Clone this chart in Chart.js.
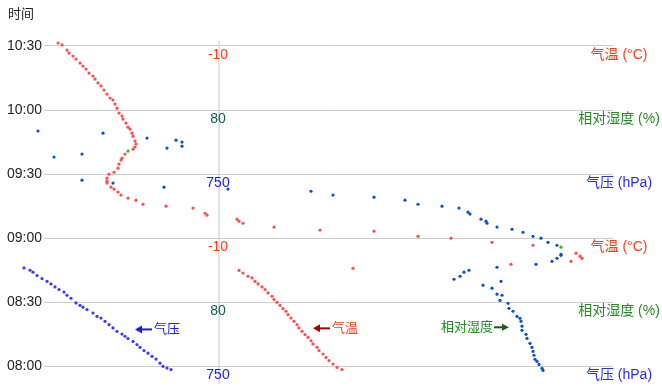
<!DOCTYPE html>
<html>
<head>
<meta charset="utf-8">
<script src="https://cdn.jsdelivr.net/npm/chart.js@4/dist/chart.umd.min.js"></script>
<style>
  body { margin: 0; background: #fff; }
  #wrap { width: 662px; height: 386px; }
</style>
</head>
<body>
<div id="wrap"><canvas id="myChart" width="662" height="386"></canvas></div>
<script>
// time axis: minutes after 08:00
var tickMinutes = [0, 30, 60, 90, 120, 150];
var tickLabels = ['08:00', '08:30', '09:00', '09:30', '10:00', '10:30'];

// inner scale labels (repeat every 90 min)
var innerLabels = ['750', '80', '-10', '750', '80', '-10'];
var innerColors = ['#1a1aee', '#0d5c55', '#ff3a10', '#1a1aee', '#0d5c55', '#ff3a10'];
var sideLabels = ['气压 (hPa)', '相对湿度 (%)', '气温 (°C)', '气压 (hPa)', '相对湿度 (%)', '气温 (°C)'];
var sideColors = ['#2a2aee', '#228822', '#ff3a1a', '#2a2aee', '#228822', '#ff3a1a'];

// [x, minutes]
var tempUpper = [[1.4,151.4],[1.8,150.5],[2.3,148.1],[2.5,146.7],[2.9,145.3],[3.2,143.9],[3.6,142.0],[3.9,140.6],
  [4.2,139.2],[4.5,137.3],[4.9,135.9],[5.1,134.5],[5.4,132.7],[5.7,131.3],[6.0,129.4],[6.3,127.5],[6.6,125.6],
  [6.9,124.7],[7.1,122.8],[7.3,120.9],[7.5,118.6],[7.8,117.2],[7.9,115.8],[8.2,113.9],[8.4,112.0],[8.6,111.1],
  [8.8,109.2],[8.9,107.8],[9.1,105.5],[9.2,104.1],[9.1,102.7],[8.9,101.7],[8.1,99.4],[7.8,97.5],[7.7,96.6],
  [7.5,94.7],[7.4,92.8],[7.0,90.9],[6.5,90.0],[6.3,88.1],[6.3,86.7],[6.3,85.8],[6.7,83.9],[7.0,83.0],[7.4,81.6],
  [7.7,80.2],[8.4,78.8],[9.2,77.8],[9.9,75.9],[12.2,75.0],[14.9,74.1],[16.1,71.7],[16.3,70.8],[19.3,68.9],
  [19.5,68.0],[19.9,67.0],[23.0,65.2],[27.6,63.8],[33.0,63.3],[37.4,60.9],[40.7,60.0],[44.8,58.1],[48.9,56.7],
  [53.2,53.0],[53.6,51.6],[53.8,50.6],[52.7,49.2],[46.7,47.8],[30.9,45.9]];
var tempLower = [[19.5,44.9],[19.9,43.7],[20.4,42.2],[20.8,41.4],[21.1,39.8],[21.4,38.6],[21.8,37.2],[22.1,36.0],
  [22.4,34.4],[22.8,32.8],[23.0,31.3],[23.3,30.0],[23.6,28.6],[23.9,27.0],[24.2,25.8],[24.4,24.2],[24.7,22.6],
  [25.0,21.1],[25.3,19.5],[25.5,18.0],[25.8,16.4],[26.1,14.9],[26.4,13.6],[26.7,12.0],[26.9,10.5],[27.3,8.9],
  [27.5,7.4],[27.9,5.8],[28.2,4.2],[28.5,2.7],[28.9,1.1],[29.3,-0.5],[29.8,-1.5]];
// listed in time order
var pressurePts = [[12.7,-1.5],[12.3,-0.8],[11.9,0.0],[11.6,1.5],[11.2,3.4],[10.8,4.7],[10.4,6.2],[10.0,7.4],
  [9.6,8.9],[9.3,10.2],[8.9,11.7],[8.4,13.0],[8.1,14.1],[7.8,15.1],[7.3,16.4],[6.9,18.0],[6.5,19.5],[6.1,21.1],
  [5.7,22.6],[5.3,23.4],[4.9,25.0],[4.3,26.6],[3.9,27.7],[3.6,28.6],[3.2,29.7],[2.7,31.9],[2.3,33.3],[2.0,34.8],
  [1.5,36.0],[1.1,37.2],[0.7,38.6],[0.3,39.8],[-0.2,41.1],[-0.7,42.5],[-1.1,44.1],[-1.4,45.0],[-2.0,46.1]];
var humidityPts = [[-0.6,110.2],[1.0,98.0],[3.8,99.4],[5.9,109.2],[10.3,106.9],[12.3,102.2],[13.2,105.9],
  [13.8,105.0],[13.8,103.1],[3.8,87.2],[6.9,85.8],[12.0,83.9],[18.4,83.0],[26.7,82.0],[28.9,80.2],[33.0,79.2],
  [36.1,77.8],[37.4,75.9],[39.8,75.0],[41.5,74.1],[42.4,72.2],[42.6,71.3],[43.7,68.9],[44.2,68.0],[44.3,67.0],
  [45.3,65.2],[46.8,64.2],[47.9,62.8],[48.9,60.9],[49.7,60.0],[50.4,58.1],[51.3,56.7],[51.7,52.5],[51.7,52.0],
  [51.3,50.6],[50.8,49.2],[49.2,47.8],[45.3,46.4],[42.5,45.0],[42.0,44.1],[41.6,42.2],[41.0,40.8],[45.7,39.8],
  [43.9,38.0],[44.8,36.6],[45.3,33.8],[45.8,33.3],[45.6,30.9],[46.4,29.5],[46.5,27.2],[46.9,25.8],[47.3,23.4],
  [47.6,22.5],[47.7,21.1],[47.8,18.8],[47.8,16.9],[48.2,15.0],[48.3,13.1],[48.6,10.8],[48.8,8.9],[48.9,7.0],
  [49.0,5.2],[49.1,3.3],[49.3,2.3],[49.5,0.9],[49.8,-0.9],[49.9,-1.9]];
var greenPts = [[51.7,55.8],[8.4,100.8]];

// arrow notes: [x, minutes, text, textColor, arrowColor, direction]
var notes = [
  [9.1, 17.3, '气压', '#1a1aee', '#1a1aee', 'left'],
  [26.9, 17.8, '气温', '#ff3a1a', '#aa0000', 'left'],
  [39.7, 18.3, '相对湿度', '#228822', '#1a5a1a', 'right']
];

function toXY(arr) {
  return arr.map(function (p) { return { x: p[0], y: p[1] }; });
}

var FONT = '"Liberation Sans", Arial, "Noto Sans CJK SC", sans-serif';

// let points left of the plot (under the time labels) be drawn too
var savedArea = null;
var wideArea = {
  id: 'wideArea',
  beforeDatasetsDraw: function (chart) {
    savedArea = chart.chartArea;
    chart.chartArea = Object.assign({}, savedArea, { left: 0 });
  },
  afterDatasetsDraw: function (chart) {
    if (savedArea) chart.chartArea = savedArea;
  }
};

var textPlugin = {
  id: 'texts',
  afterDatasetsDraw: function (chart) {
    var c = chart.ctx, xs = chart.scales.x, ys = chart.scales.y;
    c.save();
    c.textBaseline = 'middle';
    // title
    c.fillStyle = '#222';
    c.font = '13px ' + FONT;
    c.textAlign = 'left';
    c.fillText('时间', 8, 14);
    // inner and side labels
    for (var i = 0; i < tickMinutes.length; i++) {
      var py = ys.getPixelForValue(tickMinutes[i]) + 9;
      c.font = '14px ' + FONT;
      c.textAlign = 'center';
      c.fillStyle = innerColors[i];
      c.fillText(innerLabels[i], xs.getPixelForValue(17.5) - 1, py);
      c.fillStyle = sideColors[i];
      c.fillText(sideLabels[i], 619, py);
    }
    // arrows with notes
    c.font = '13px ' + FONT;
    notes.forEach(function (n) {
      var px = xs.getPixelForValue(n[0]), py = ys.getPixelForValue(n[1]);
      c.strokeStyle = n[4];
      c.fillStyle = n[4];
      c.lineWidth = 2;
      var ax0, ax1, tip;
      if (n[5] === 'left') {
        ax0 = px; ax1 = px + 17; tip = ax0;
        c.beginPath(); c.moveTo(ax0 + 5, py); c.lineTo(ax1, py); c.stroke();
        c.beginPath(); c.moveTo(tip, py); c.lineTo(tip + 7, py - 4); c.lineTo(tip + 7, py + 4); c.closePath(); c.fill();
        c.fillStyle = n[3];
        c.textAlign = 'left';
        c.fillText(n[2], ax1 + 2, py);
      } else {
        c.fillStyle = n[3];
        c.textAlign = 'left';
        c.fillText(n[2], px, py);
        var w = c.measureText(n[2]).width;
        ax0 = px + w + 1; ax1 = ax0 + 15; tip = ax1;
        c.fillStyle = n[4];
        c.beginPath(); c.moveTo(ax0, py); c.lineTo(ax1 - 5, py); c.stroke();
        c.beginPath(); c.moveTo(tip, py); c.lineTo(tip - 7, py - 3.5); c.lineTo(tip - 7, py + 3.5); c.closePath(); c.fill();
      }
    });
    c.restore();
  }
};

function ds(label, pts, color) {
  return {
    label: label,
    data: toXY(pts),
    backgroundColor: color,
    borderWidth: 0,
    pointRadius: 1.6,
    pointHoverRadius: 1.6,
    clip: false
  };
}

var ctx = document.getElementById('myChart').getContext('2d');
var myChart = new Chart(ctx, {
  type: 'scatter',
  data: {
    datasets: [
      ds('气压', pressurePts, '#3a3aff'),
      ds('相对湿度', humidityPts, '#0a52c8'),
      ds('气温', tempUpper.concat(tempLower), '#ff4d4d'),
      ds('', greenPts, '#22bb22')
    ]
  },
  options: {
    responsive: false,
    animation: false,
    layout: { padding: { top: 41, right: 49, left: 0, bottom: 0 } },
    plugins: {
      legend: { display: false },
      tooltip: { enabled: false }
    },
    scales: {
      x: {
        type: 'linear',
        min: 0,
        max: 56.9,
        afterBuildTicks: function (scale) { scale.ticks = [{ value: 17.5 }]; },
        afterFit: function (scale) {
          scale.height = 0;
          scale.paddingLeft = 0; scale.paddingRight = 0;
        },
        ticks: { display: false },
        grid: { color: '#e2e2e2', lineWidth: 2, drawTicks: false },
        border: { display: false }
      },
      y: {
        type: 'linear',
        min: -8.44,
        max: 152.34,
        afterBuildTicks: function (scale) {
          scale.ticks = tickMinutes.map(function (v) { return { value: v }; });
        },
        afterFit: function (scale) {
          scale.width = 44;
          scale.paddingTop = 0; scale.paddingBottom = 0;
        },
        ticks: {
          padding: 2,
          color: '#222',
          font: { family: FONT, size: 14 },
          callback: function (v) { return tickLabels[tickMinutes.indexOf(v)]; }
        },
        grid: { color: '#cccccc', lineWidth: 1, drawTicks: false },
        border: { display: false }
      }
    }
  },
  plugins: [wideArea, textPlugin]
});
</script>
</body>
</html>
